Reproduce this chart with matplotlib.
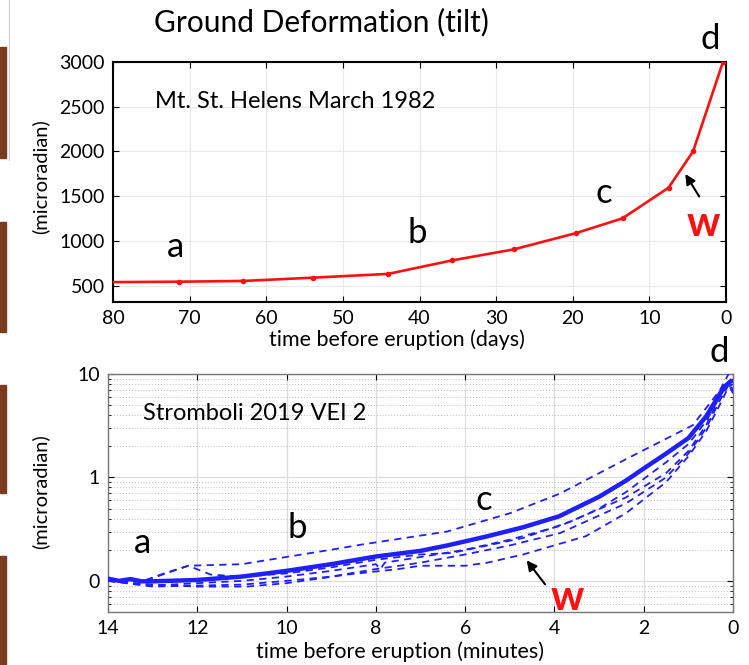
import matplotlib
matplotlib.use("Agg")
import matplotlib.pyplot as plt
from matplotlib.patches import Rectangle
from matplotlib.lines import Line2D

plt.rcParams['font.family'] = ['Lato', 'DejaVu Sans']

# ---- Top panel data: Mt. St. Helens March 1982 ----
msh_days = [80, 71.4, 63.0, 53.9, 44.1, 35.8, 27.7, 19.6, 13.5, 7.5, 4.3, 0.4]
msh_tilt = [540, 545, 553, 590, 632, 782, 906, 1087, 1253, 1595, 2000, 3000]
msh_marked = [False] + [True] * 11

# ---- Bottom panel data: Stromboli 2019 VEI 2 ----
str_min = [14.0, 13.75, 13.5, 13.25, 13.0, 12.0, 11.0, 10.0, 9.0, 8.0, 7.0, 6.4, 5.5,
           4.7, 3.9, 3.0, 2.4, 2.0, 1.5, 1.0, 0.6, 0.2, 0.05]
str_mean = [0.105, 0.100, 0.104, 0.099, 0.099, 0.102, 0.110, 0.125, 0.145, 0.172, 0.195,
            0.22, 0.27, 0.33, 0.42, 0.65, 0.93, 1.22, 1.7, 2.4, 3.9, 7.5, 8.5]

d1_min = [14.0, 13.2, 12.7, 12.2, 11.0, 9.0, 8.3, 6.4, 5.0, 3.87, 2.4, 0.9, 0.3, 0.1]
d1_val = [0.100, 0.100, 0.118, 0.140, 0.145, 0.200, 0.225, 0.300, 0.45, 0.70, 1.5, 3.2, 6.9, 10.0]

d2_min = [14.0, 13.2, 12.7, 12.2, 11.7, 11.0, 10.0, 9.0, 8.0, 7.0, 6.3, 5.5, 4.7, 3.6, 3.0,
          2.4, 1.5, 1.0, 0.6, 0.25, 0.1, 0.0]
d2_val = [0.100, 0.100, 0.120, 0.140, 0.115, 0.110, 0.118, 0.135, 0.160, 0.180, 0.186, 0.22,
          0.26, 0.38, 0.50, 0.72, 1.4, 2.1, 3.5, 6.5, 8.5, 7.0]

d3_min = [14.0, 13.0, 12.0, 11.0, 10.0, 9.0, 8.0, 7.9, 7.8, 7.0, 6.0, 5.0, 3.87, 2.4, 1.5,
          1.0, 0.6, 0.3, 0.1, 0.0]
d3_val = [0.100, 0.090, 0.095, 0.100, 0.110, 0.125, 0.145, 0.130, 0.150, 0.170, 0.200, 0.25,
          0.34, 0.64, 1.1, 1.8, 3.2, 6.0, 8.0, 6.5]

d4_min = [14.0, 13.0, 12.0, 11.0, 10.0, 9.0, 8.0, 7.0, 6.0, 5.0, 3.87, 2.4, 1.5, 1.0, 0.6,
          0.3, 0.1, 0.0]
d4_val = [0.100, 0.088, 0.090, 0.092, 0.100, 0.110, 0.130, 0.150, 0.180, 0.220, 0.29, 0.56,
          1.0, 1.7, 3.0, 5.5, 7.8, 8.2]

d5_min = [14.0, 13.0, 12.0, 10.9, 10.0, 8.65, 7.5, 7.0, 6.0, 5.5, 4.7, 3.3, 2.4, 1.5, 1.0,
          0.6, 0.3, 0.1, 0.0]
d5_val = [0.100, 0.092, 0.088, 0.088, 0.095, 0.115, 0.130, 0.140, 0.140, 0.150, 0.180, 0.27,
          0.45, 0.9, 1.6, 2.8, 5.0, 7.5, 8.0]

top_xticks = [80, 70, 60, 50, 40, 30, 20, 10, 0]
top_yticks = [500, 1000, 1500, 2000, 2500, 3000]
bot_xticks = [14, 12, 10, 8, 6, 4, 2, 0]
bot_yticks = [0.1, 1, 10]
bot_yticklabels = ["0", "1", "10"]

W, H = 749, 665
fig = plt.figure(figsize=(W / 100, H / 100), dpi=100)
fig.patch.set_facecolor('white')


def fx(px):
    return px / W


def fy(py):
    return 1 - py / H


# decorative slide bars on the left edge
brown = '#7a3b1e'
for (y0, y1) in [(47, 158), (222, 332), (385, 493), (556, 665)]:
    fig.patches.append(Rectangle((0, fy(y1)), fx(6), fy(y0) - fy(y1),
                                 transform=fig.transFigure, color=brown, zorder=0))
fig.lines.append(Line2D([fx(8.5), fx(8.5)], [fy(0), fy(160)], transform=fig.transFigure,
                        color='#cccccc', lw=0.8))

TICK_FS = 14
LET_FS = 25
W_FS = 30

# ---------------- Top panel ----------------
ax1 = fig.add_axes([fx(113), fy(302), fx(726) - fx(113), fy(62) - fy(302)])
ax1.plot(msh_days, msh_tilt, color='#ff1010', lw=1.9, zorder=3)
ax1.plot([d for d, m in zip(msh_days, msh_marked) if m],
         [t for t, m in zip(msh_tilt, msh_marked) if m],
         'o', color='#ff1010', ms=3, zorder=4)
ax1.set_xlim(80, 0)
ax1.set_ylim(318, 3000)
ax1.set_xticks(top_xticks)
ax1.set_yticks(top_yticks)
ax1.grid(True, color='#e8e8e8', lw=0.8)
ax1.tick_params(direction='in', length=4, width=0.8, labelsize=TICK_FS, top=True, right=True,
                pad=6)
for s in ax1.spines.values():
    s.set_linewidth(1.5)
    s.set_color('black')

ax1.text(74.5, 2554, "Mt. St. Helens March 1982", fontsize=17, ha='left', va='center')
ax1.text(71.9, 929, "a", fontsize=LET_FS, ha='center', va='center')
ax1.text(40.3, 1087, "b", fontsize=LET_FS, ha='center', va='center')
ax1.text(16.0, 1538, "c", fontsize=LET_FS, ha='center', va='center')
ax1.text(2.1, 3260, "d", fontsize=LET_FS, ha='center', va='center', clip_on=False)
ax1.text(2.9, 1190, "w", fontsize=W_FS, ha='center', va='center', color='#ff1010',
         fontweight='bold')
ax1.annotate("", xy=(5.5, 1775), xytext=(3.3, 1470),
             arrowprops=dict(arrowstyle='-|>', color='black', lw=1.5, mutation_scale=15))

# ---------------- Bottom panel ----------------
ax2 = fig.add_axes([fx(108), fy(612), fx(733) - fx(108), fy(374) - fy(612)])
ax2.set_yscale('log')
blue = '#1f1fff'
for xs, ys in [(d1_min, d1_val), (d2_min, d2_val), (d3_min, d3_val), (d4_min, d4_val),
               (d5_min, d5_val)]:
    ax2.plot(xs, ys, color=blue, lw=1.3, dashes=(4, 3), zorder=3)
ax2.plot(str_min, str_mean, color=blue, lw=3.2, zorder=4)
ax2.set_xlim(14, 0)
ax2.set_ylim(0.05, 10)
ax2.set_xticks(bot_xticks)
ax2.set_yticks(bot_yticks)
ax2.set_yticklabels(bot_yticklabels)
ax2.grid(True, which='major', color='#dddddd', lw=0.9)
ax2.grid(True, which='minor', axis='y', color='#bbbbbb', lw=0.7, ls=(0, (1, 2)))
ax2.tick_params(which='both', direction='in', top=True, right=True, labelsize=TICK_FS, pad=6)
ax2.tick_params(which='major', length=4, width=0.8)
ax2.tick_params(which='minor', length=2.5, width=0.6)
for s in ax2.spines.values():
    s.set_linewidth(1.0)
    s.set_color('#777777')

ax2.text(13.22, 4.17, "Stromboli 2019 VEI 2", fontsize=17, ha='left', va='center')
ax2.text(13.22, 0.233, "a", fontsize=LET_FS, ha='center', va='center')
ax2.text(9.77, 0.328, "b", fontsize=LET_FS, ha='center', va='center')
ax2.text(5.59, 0.6, "c", fontsize=LET_FS, ha='center', va='center')
ax2.text(0.31, 16.5, "d", fontsize=LET_FS, ha='center', va='center', clip_on=False)
ax2.text(3.72, 0.069, "w", fontsize=W_FS, ha='center', va='center', color='#ff1010',
         fontweight='bold')
ax2.annotate("", xy=(4.66, 0.166), xytext=(4.17, 0.088),
             arrowprops=dict(arrowstyle='-|>', color='black', lw=1.5, mutation_scale=15))

# ---------------- Figure texts ----------------
fig.text(fx(321), fy(22), "Ground Deformation (tilt)", fontsize=21.5, ha='center', va='center')
fig.text(fx(397), fy(340), "time before eruption (days)", fontsize=15.5, ha='center',
         va='center')
fig.text(fx(400), fy(652), "time before eruption (minutes)", fontsize=15.5, ha='center',
         va='center')
fig.text(fx(40), fy(177), "(microradian)", fontsize=14.5, ha='center', va='center', rotation=90)
fig.text(fx(40), fy(492), "(microradian)", fontsize=14.5, ha='center', va='center', rotation=90)

fig.savefig("out.png", dpi=100)
